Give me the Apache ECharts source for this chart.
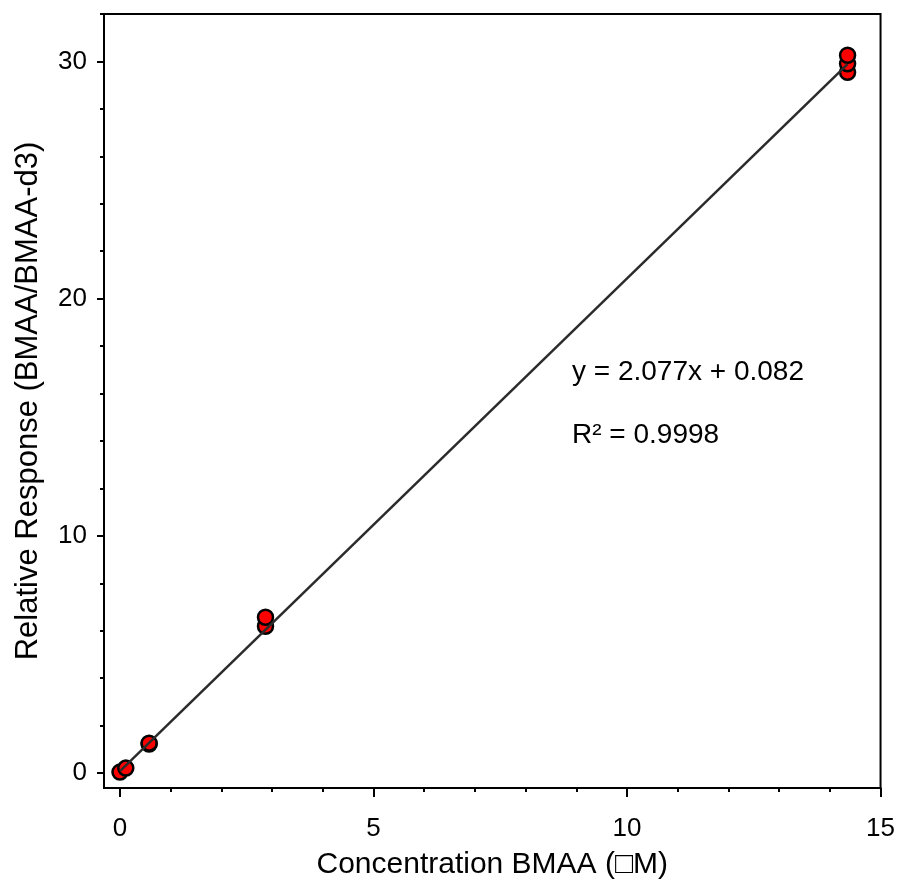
<!DOCTYPE html>
<html>
<head>
<meta charset="utf-8">
<script src="https://cdn.jsdelivr.net/npm/echarts@6/dist/echarts.min.js"></script>
<style>
  html, body { margin: 0; padding: 0; background: #fff; }
  #chart { width: 898px; height: 892px; }
</style>
</head>
<body>
<div id="chart"></div>
<script>
// Calibration standards: concentration (µM) vs BMAA/BMAA-d3 response ratio
const concentration = [0, 0.115, 0.575, 0.575, 2.87, 2.87, 14.35, 14.35, 14.35];
const response      = [0.04, 0.21, 1.22, 1.26, 6.19, 6.57, 29.54, 29.9, 30.26];

// Linear fit
const slope = 2.077;
const intercept = 0.082;
const fitRange = [0, 14.35];

// Axis ticks
const xMajorTicks = [0, 5, 10, 15];
const xMinorTicks = [1, 2, 3, 4, 6, 7, 8, 9, 11, 12, 13, 14];
const yMajorTicks = [0, 10, 20, 30];
const yMinorTicks = [2, 4, 6, 8, 12, 14, 16, 18, 22, 24, 26, 28, 32];

const FONT = '"Liberation Sans", Arial, Helvetica, sans-serif';
const xRange = [-0.315, 15];
const yRange = [-0.63, 32];

const scatterData = concentration.map((c, i) => [c, response[i]]);
const fitData = fitRange.map(x => [x, slope * x + intercept]);

const chart = echarts.init(document.getElementById('chart'), null, { renderer: 'canvas' });

const baseAxis = {
  type: 'value',
  splitLine: { show: false },
  axisLine: { show: true, onZero: false, lineStyle: { color: '#000', width: 2 } }
};

chart.setOption({
  animation: false,
  backgroundColor: '#fff',
  grid: {
    left: 104, right: 16, top: 14, bottom: 104,
    show: true, borderColor: '#000', borderWidth: 2, backgroundColor: 'transparent'
  },
  xAxis: [
    Object.assign({}, baseAxis, {
      min: xRange[0], max: xRange[1],
      position: 'bottom',
      name: 'Concentration BMAA (\u25A1M)',
      nameLocation: 'middle',
      nameGap: 62,
      nameTextStyle: { fontFamily: FONT, fontSize: 30, color: '#000' },
      axisTick: { show: true, customValues: xMajorTicks, length: 9, lineStyle: { color: '#000', width: 2 } },
      axisLabel: { customValues: xMajorTicks, fontFamily: FONT, fontSize: 26, color: '#000', margin: 28 }
    }),
    Object.assign({}, baseAxis, {
      min: xRange[0], max: xRange[1],
      position: 'bottom',
      axisLine: { show: false, onZero: false },
      axisTick: { show: true, customValues: xMinorTicks, length: 4, lineStyle: { color: '#000', width: 2 } },
      axisLabel: { show: false }
    })
  ],
  yAxis: [
    Object.assign({}, baseAxis, {
      min: yRange[0], max: yRange[1],
      position: 'left',
      name: 'Relative Response (BMAA/BMAA-d3)',
      nameLocation: 'middle',
      nameGap: 60,
      nameTextStyle: { fontFamily: FONT, fontSize: 31, color: '#000' },
      axisTick: { show: true, customValues: yMajorTicks, length: 7, lineStyle: { color: '#000', width: 2 } },
      axisLabel: { customValues: yMajorTicks, fontFamily: FONT, fontSize: 26, color: '#000', margin: 17 }
    }),
    Object.assign({}, baseAxis, {
      min: yRange[0], max: yRange[1],
      position: 'left',
      axisLine: { show: false, onZero: false },
      axisTick: { show: true, customValues: yMinorTicks, length: 4, lineStyle: { color: '#000', width: 2 } },
      axisLabel: { show: false }
    })
  ],
  series: [
    {
      type: 'scatter',
      xAxisIndex: 0, yAxisIndex: 0,
      data: scatterData,
      symbol: 'circle',
      symbolSize: 15,
      itemStyle: { color: '#ff0000', borderColor: '#000', borderWidth: 2.5, opacity: 1 },
      z: 2
    },
    {
      type: 'line',
      xAxisIndex: 0, yAxisIndex: 0,
      data: fitData,
      showSymbol: false,
      lineStyle: { color: '#2b2b2b', width: 2.5 },
      z: 3
    }
  ],
  graphic: [
    {
      type: 'text', left: 572, top: 358,
      style: { text: 'y = 2.077x + 0.082', font: '28px ' + FONT, fill: '#000' }
    },
    {
      type: 'text', left: 572, top: 421,
      style: { text: 'R\u00B2 = 0.9998', font: '28px ' + FONT, fill: '#000' }
    }
  ]
});
</script>
</body>
</html>
